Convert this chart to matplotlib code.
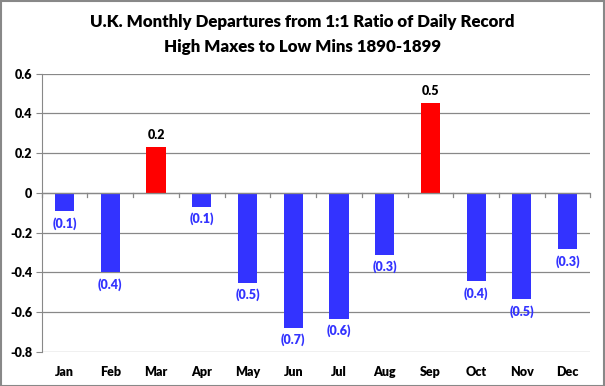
import matplotlib.pyplot as plt
import numpy as np

plt.rcParams['font.family'] = ['Lato', 'DejaVu Sans']

months = ['Jan', 'Feb', 'Mar', 'Apr', 'May', 'Jun',
          'Jul', 'Aug', 'Sep', 'Oct', 'Nov', 'Dec']
departures = [-0.093, -0.40, 0.233, -0.071, -0.452, -0.68,
              -0.635, -0.312, 0.455, -0.446, -0.537, -0.285]
yticks = [0.6, 0.4, 0.2, 0, -0.2, -0.4, -0.6, -0.8]


def fmt(v):
    s = f'{abs(v):.1f}'
    return s if v >= 0 else f'({s})'


fig = plt.figure(figsize=(6.05, 3.86), dpi=100)
ax = fig.add_axes([0.069, 0.089, 0.907, 0.72])

x = np.arange(len(months))
colors = ['#ff0000' if v > 0 else '#3333ff' for v in departures]
ax.bar(x, departures, width=0.42, color=colors, zorder=3)

for xi, v in zip(x, departures):
    if v > 0:
        ax.annotate(fmt(v), (xi, v), xytext=(0, 4), textcoords='offset points',
                    ha='center', va='bottom', fontsize=9, fontweight='heavy',
                    color='black')
    else:
        ax.annotate(fmt(v), (xi, v), xytext=(0, -4), textcoords='offset points',
                    ha='center', va='top', fontsize=9, fontweight='heavy',
                    color='#3333ff')

ax.set_xlim(-0.5, len(months) - 0.5)
ax.set_ylim(-0.8, 0.6)
ax.set_yticks(yticks)
ax.set_yticklabels([f'{t:g}' for t in yticks], fontsize=9, fontweight='heavy')
ax.yaxis.grid(True, color='#888888', linewidth=0.9, zorder=0)
ax.tick_params(axis='y', length=4, color='#888888', pad=3)

# month names sit under the plot, separators hang from the zero line
ax.set_xticks(x)
ax.set_xticklabels(months, fontsize=9, fontweight='heavy')
ax.tick_params(axis='x', length=0, pad=10)
ax.axhline(0, color='#888888', linewidth=0.9, zorder=4)
for b in np.arange(-0.5, len(months), 1.0):
    ax.plot([b, b], [0, -0.02], color='#888888', linewidth=0.9,
            zorder=4, clip_on=False)

for s in ['top', 'right', 'bottom']:
    ax.spines[s].set_visible(False)
ax.spines['left'].set_color('#888888')

fig.text(0.5, 0.943, 'U.K. Monthly Departures from 1:1 Ratio of Daily Record',
         ha='center', va='center', fontsize=12.2, fontweight='heavy')
fig.text(0.5, 0.878, 'High Maxes to Low Mins 1890-1899',
         ha='center', va='center', fontsize=12.2, fontweight='heavy')

fig.patches.append(plt.Rectangle((0.001, 0.001), 0.997, 0.996,
                                 transform=fig.transFigure, fill=False,
                                 edgecolor='#888888', linewidth=1.5))

fig.savefig('out.png', dpi=100)
